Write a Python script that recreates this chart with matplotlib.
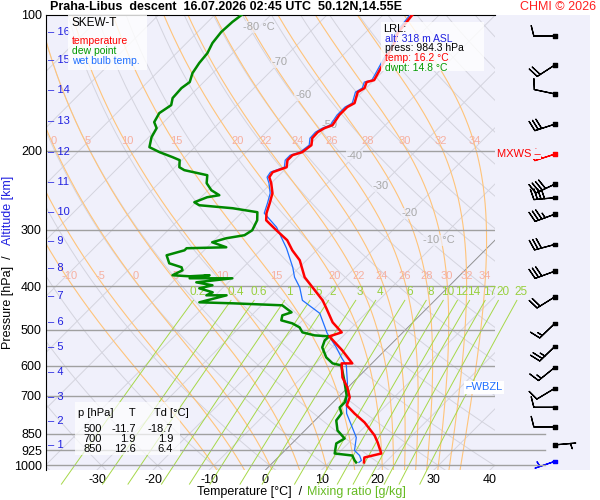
import matplotlib
matplotlib.use("Agg")
import matplotlib.pyplot as plt
import numpy as np

plt.rcParams['font.family'] = ['Liberation Sans', 'DejaVu Sans']

# sounding data
t_pres = [100, 109.6, 115.4, 132.5, 139.5, 140.9, 145.3, 148.3, 156.9, 160.1, 166.8, 175.6, 178.3,
          182.0, 187.7, 194.5, 201.6, 204.7, 210.0, 217.7, 223.3, 229.1, 236.2, 248.6, 261.7, 275.4,
          285.5, 300.5, 316.2, 332.9, 350.3, 382.1, 394.0, 429.9, 447.9, 481.1, 506.4, 516.8, 555.2,
          593.4, 593.4, 637.5, 670.9, 706.1, 735.6, 766.4, 802.5, 857.7, 889.1, 940.5, 960.0, 984.3]
t_temp = [-54.8, -54.2, -53.0, -50.8, -50.0, -51.0, -50.3, -50.8, -49.4, -50.0, -50.0, -49.4, -50.3,
          -50.8, -50.7, -49.6, -50.0, -51.2, -51.2, -50.1, -51.7, -51.4, -50.0, -48.0, -46.7, -45.5,
          -44.3, -40.7, -37.0, -34.3, -31.2, -27.3, -25.4, -20.0, -17.9, -14.3, -10.9, -12.4, -7.6,
          -3.5, -5.4, -2.75, -0.1, 2.1, 3.0, 5.8, 9.2, 13.3, 15.1, 17.7, 15.4, 16.2]

td_pres = [100, 103.6, 109.1, 115.4, 121.5, 127.8, 134.6, 140.9, 145.3, 152.9, 158.5, 165.1, 172.9,
           178.3, 186.7, 196.5, 201.6, 206.8, 210.0, 217.7, 221.0, 226.8, 236.2, 244.9, 251.2, 253.8,
           260.4, 264.4, 268.5, 274.0, 285.5, 300.5, 308.2, 313.0, 319.5, 327.8, 329.4, 332.9, 341.5,
           355.8, 363.1, 368.7, 378.2, 380.2, 378.2, 384.1, 384.1, 392.1, 398.1, 404.3, 412.7, 419.0,
           419.0, 434.3, 436.5, 441.0, 457.1, 464.2, 476.2, 483.6, 493.6, 506.4, 514.2, 516.8, 527.5,
           546.7, 575.5, 593.4, 599.5, 647.3, 699.0, 724.4, 743.2, 766.4, 794.3, 836.0, 871.0, 893.5,
           940.5, 950.3, 974.8, 984.3]
td_temp = [-85.2, -85.6, -85.8, -85.4, -84.5, -84.2, -83.6, -82.5, -82.9, -82.7, -81.7, -82.4, -81.7,
           -80.2, -79.5, -78.1, -75.4, -72.2, -70.4, -69.2, -67.8, -62.8, -61.5, -59.4, -57.1, -58.9,
           -60.3, -58.9, -52.4, -47.3, -45.9, -45.0, -45.5, -48.2, -50.0, -46.6, -53.5, -53.5, -55.8,
           -53.9, -51.0, -50.3, -51.2, -48.0, -44.6, -47.6, -40.0, -45.7, -42.3, -44.1, -41.0, -41.6,
           -38.0, -41.6, -35.5, -26.3, -23.4, -24.5, -23.8, -21.3, -19.3, -17.9, -15.2, -12.4, -12.5,
           -11.7, -9.2, -7.0, -5.1, -1.9, 1.2, 2.1, 2.1, 3.5, 3.8, 5.8, 8.5, 7.9,
           9.4, 12.9, 14.2, 14.8]

tw_pres = [100, 109.6, 115.4, 132.5, 139.5, 140.9, 145.3, 148.3, 156.9, 160.1, 166.8, 175.6, 178.3,
           182.0, 187.7, 194.5, 201.6, 204.7, 210.0, 217.7, 223.3, 229.1, 236.2, 248.6, 261.7, 275.4,
           295.9, 316.2, 329.4, 363.1, 382.1, 402.2, 429.9, 459.4, 509.0, 546.7, 575.5, 599.5, 657.3,
           724.4, 766.4, 823.3, 866.6, 926.2, 950.3, 974.8, 984.3]
tw_temp = [-55.2, -54.6, -53.4, -51.2, -50.4, -51.4, -50.7, -51.2, -49.8, -50.4, -50.4, -49.8, -50.7,
           -51.2, -51.1, -50.0, -50.4, -51.6, -51.6, -50.5, -52.1, -51.8, -50.4, -48.4, -47.1, -45.9,
           -41.2, -37.8, -35.7, -31.2, -29.1, -26.4, -23.6, -18.2, -13.3, -9.2, -6.5, -4.2, -0.8,
           2.4, 4.4, 7.9, 10.4, 12.4, 14.2, 15.4, 15.3]

wind_pres = [111.4, 129.1, 149.7, 174.7, 203.6, 237.4, 254.5, 276.8, 323.1, 370.4, 422.3, 483.6,
             544.0, 605.4, 673.9, 742.6, 821.2, 900.0, 979.0]
wind_dir = [270, 237, 282, 252, 252, 245, 265, 250, 255, 250, 238, 226, 226, 231, 239, 270, 270, 85, 251]
wind_spd = [10, 20, 10, 30, 30, 40, 40, 35, 30, 30, 20, 15, 25, 15, 10, 10, 10, 5, 5]

isobars = [200, 300, 400, 500, 600, 700, 850, 925, 1000]
alt_km = list(range(1, 17))
alt_pres = [900.0, 795.9, 703.0, 621.2, 546.7, 480.2, 420.0, 364.5, 316.8, 274.0, 234.4, 201.6,
            172.1, 146.7, 125.9, 109.1]
moist_vals = [-10, -5, 0, 5, 10, 15, 20, 22, 24, 26, 28, 30, 32, 34]
mix_vals = [0.2, 0.4, 0.6, 1, 1.5, 2, 3, 4, 6, 8, 10, 12, 14, 17, 20, 25]
mix_labels = ['0.2', '0.4', '0.6', '1', '1.5', '2', '3', '4', '6', '8', '10', '12', '14', '17', '20', '25']
table_rows = [('500', '-11.7', '-18.7'), ('700', '1.9', '1.9'), ('850', '12.6', '6.4')]

P0 = 1023.3
K = 80.15
BG = '#f0f0fb'


def skew(t, p):
    return np.asarray(t) + K * np.log10(P0 / np.asarray(p))


def moist_adiabat(tw, pres):
    # pseudo-adiabat started from 1000 hPa
    def grad(T, p):
        tc = T - 273.15
        es = 6.112 * np.exp(17.67 * tc / (tc + 243.5))
        rs = 0.622 * es / (p - es)
        return (287.04 * T + 2.501e6 * rs) / (1005.7 + 2.501e6 ** 2 * rs * 0.622 / (287.04 * T ** 2)) / p
    out = {}
    for direction, stop in ((-1, 95), (1, 1060)):
        T, p = tw + 273.15, 1000.0
        while (p > stop) if direction < 0 else (p < stop):
            out[p] = T - 273.15
            dp = direction * 1.0
            T += grad(T, p) * dp
            p += dp
    ps = np.array(sorted(out))
    ts = np.array([out[k] for k in ps])
    return np.interp(pres, ps, ts)


def mix_td(w, p):
    e = w * p / (622 + w)
    return 243.5 * np.log(e / 6.112) / (17.67 - np.log(e / 6.112))


fig = plt.figure(figsize=(6, 5), dpi=100)

# wind barbs column (behind the main axes so labels can spill over it)
bx = fig.add_axes([495 / 600, 30 / 500, 95 / 600, 455 / 500])
bx.set_facecolor(BG)
bx.set_yscale('log')
bx.set_ylim(P0, 100)
bx.set_xlim(0, 1)
for s in bx.spines.values():
    s.set_visible(False)
bx.tick_params(which='both', left=False, labelleft=False, bottom=False, labelbottom=False)
for p in (850, 925, 1000):
    bx.axhline(p, xmax=0.53, color='#a0a0a0', lw=1)
rad = np.deg2rad(wind_dir)
u = -np.array(wind_spd) * np.sin(rad)
v = -np.array(wind_spd) * np.cos(rad)
cols = ['#ff0000' if p == 203.6 else ('#0000ff' if p > 970 else 'black') for p in wind_pres]
bx.barbs(np.full(len(wind_pres), 0.63), wind_pres, u, v, color=cols, length=5.5, lw=0.9,
         sizes=dict(emptybarb=0, spacing=0.17, height=0.5))
bx.scatter(np.full(len(wind_pres), 0.63), wind_pres, s=6, marker='s', c=cols, zorder=5)

ax = fig.add_axes([46 / 600, 30 / 500, 449 / 600, 455 / 500])
ax.set_zorder(2)
ax.set_facecolor(BG)
ax.set_yscale('log')
ax.set_ylim(P0, 100)
ax.set_xlim(-39.08, 40.89)

pp = np.geomspace(100, 1100, 200)
for t in range(-160, 60, 10):
    ax.plot(skew(np.full_like(pp, t), pp), pp, color='#d4d4de', lw=0.7, zorder=1)
for th in range(-40, 240, 10):
    tt = (th + 273.15) * (pp / 1000) ** 0.2857 - 273.15
    ax.plot(skew(tt, pp), pp, color='#d4d4de', lw=0.7, zorder=1)
ax.plot(skew(np.zeros_like(pp), pp), pp, color='#909090', lw=0.6, zorder=1)

for tw in moist_vals:
    tt = moist_adiabat(tw, pp)
    ax.plot(skew(tt, pp), pp, color='#ffc47a', lw=0.8, zorder=2)
    for plab in (195, 390):
        xl = skew(moist_adiabat(tw, plab), plab)
        if -38 < xl < 40.5 and not (plab == 195 and tw < 0):
            ax.text(xl, plab, str(tw), color='#f6b0a0', fontsize=8, ha='center', va='bottom', zorder=3)

pm = np.geomspace(430, 1100, 50)
for w, lab in zip(mix_vals, mix_labels):
    ax.plot(skew(mix_td(w, pm), pm), pm, color='#a6d848', lw=0.7, zorder=2, clip_on=False)
    ax.text(skew(mix_td(w, 430), 430) + 0.8, 424, lab, color='#99d040', fontsize=8.5, ha='center',
            va='bottom', zorder=3)

for t, pl in zip([-80, -70, -60, -50, -40, -30, -20, -10], [106.3, 127.2, 150.5, 175.6, 205.6, 239.8, 275.4, 316.2]):
    txt = f'{t} °C' if t in (-80, -10) else str(t)
    ax.text(skew(t, pl), pl, txt, color='#a8a8a8', fontsize=8, ha='center', va='center', zorder=3,
            bbox=dict(fc=BG, ec='none', pad=0.5, alpha=0.7))

for p in isobars:
    ax.axhline(p, color='#a0a0a0', lw=1, zorder=2)

ax.plot(skew(tw_temp, tw_pres), tw_pres, color='#1f6fff', lw=0.9, zorder=5)
ax.plot(skew(td_temp, td_pres), td_pres, color='#008800', lw=1.8, zorder=6)
ax.plot(skew(t_temp, t_pres), t_pres, color='#ff0000', lw=1.8, zorder=7)

for km, p in zip(alt_km, alt_pres):
    ax.text(0.005, p, f'– {km}', transform=ax.get_yaxis_transform(), color='#2020e0',
            fontsize=8, va='center', ha='left', zorder=8)

# legend box
ax.add_patch(plt.Rectangle((0.05, 0.88), 0.175, 0.12, transform=ax.transAxes, fc='white', ec='none',
                           alpha=0.8, zorder=9))
ax.text(0.057, 0.982, 'SKEW-T', transform=ax.transAxes, fontsize=8.5, va='center', zorder=10)
for i, (lab, col) in enumerate([('temperature', '#ff0000'), ('dew point', '#009900'), ('wet bulb temp.', '#1f6fff')]):
    ax.text(0.057, 0.943 - i * 0.022, lab, transform=ax.transAxes, fontsize=7.5, color=col, va='center', zorder=10)

# lowest level box
ax.add_patch(plt.Rectangle((0.745, 0.877), 0.23, 0.108, transform=ax.transAxes, fc='white', ec='none',
                           alpha=0.8, zorder=9))
ax.text(0.75, 0.97, 'LRL:', transform=ax.transAxes, fontsize=8, va='center', zorder=10)
for i, (lab, col) in enumerate([('alt: 318 m ASL', '#2020e0'), ('press: 984.3 hPa', '#000000'),
                                ('temp: 16.2 °C', '#ff0000'), ('dwpt: 14.8 °C', '#009900')]):
    ax.text(0.755, 0.948 - i * 0.0215, lab, transform=ax.transAxes, fontsize=7.5, color=col, va='center', zorder=10)

# standard levels table
ax.add_patch(plt.Rectangle((0.065, 0.033), 0.233, 0.116, transform=ax.transAxes, fc='white', ec='none',
                           alpha=0.7, zorder=9))
ax.text(0.071, 0.125, 'p [hPa]     T      Td [°C]', transform=ax.transAxes, fontsize=8, va='center', zorder=10)
for i, (p, t, td) in enumerate(table_rows):
    y = 0.09 - i * 0.022
    ax.text(0.125, y, p, transform=ax.transAxes, fontsize=8, ha='right', va='center', zorder=10)
    ax.text(0.20, y, t, transform=ax.transAxes, fontsize=8, ha='right', va='center', zorder=10)
    ax.text(0.283, y, td, transform=ax.transAxes, fontsize=8, ha='right', va='center', zorder=10)

ax.text(0.935, 671, '⌐WBZL', color='#1f6fff', fontsize=8, va='center', transform=ax.get_yaxis_transform(),
        zorder=10, bbox=dict(fc='white', ec='none', pad=1))
ax.text(1.005, 203.6, 'MXWS –', color='#ff0000', fontsize=8, va='center', ha='left',
        transform=ax.get_yaxis_transform(), zorder=10, bbox=dict(fc=BG, ec='none', pad=0))

ax.set_yticks(isobars + [100])
ax.set_yticklabels([str(p) for p in isobars] + ['100'], fontsize=9)
ax.yaxis.set_minor_locator(matplotlib.ticker.NullLocator())
ax.set_xticks(range(-30, 50, 10))
ax.set_xticklabels([str(t) for t in range(-30, 50, 10)], fontsize=9)
ax.tick_params(length=0, pad=3)
for s in ('right', 'bottom'):
    ax.spines[s].set_visible(False)

fig.text(50 / 600, 1 - 7 / 500, 'Praha-Libus  descent  16.07.2026 02:45 UTC  50.12N,14.55E',
         fontsize=9, fontweight='bold', va='center')
fig.text(596 / 600, 1 - 7 / 500, 'CHMI © 2026', fontsize=9, color='#ff2020', va='center', ha='right')
fig.text(197 / 600, 1 - 492 / 500, 'Temperature [°C]  /', fontsize=9, va='center', ha='left')
fig.text(307 / 600, 1 - 492 / 500, 'Mixing ratio [g/kg]', fontsize=9, va='center', ha='left', color='#66bb22')
fig.text(8 / 600, 1 - 302 / 500, 'Pressure [hPa]  /', fontsize=9, rotation=90, va='center', ha='center')
fig.text(8 / 600, 1 - 210 / 500, 'Altitude [km]', fontsize=9, rotation=90, va='center', ha='center', color='#2020e0')

fig.savefig('out.png', dpi=100, facecolor='white')
